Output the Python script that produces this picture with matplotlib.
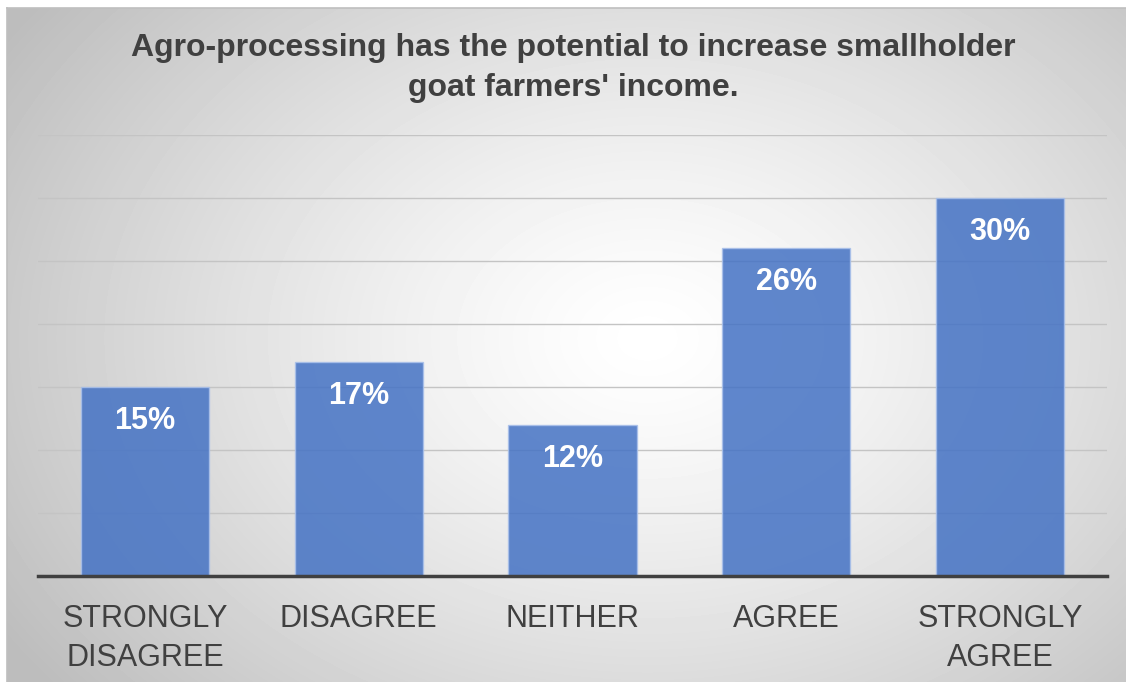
import matplotlib.pyplot as plt
import numpy as np

categories = ["STRONGLY\nDISAGREE", "DISAGREE", "NEITHER", "AGREE", "STRONGLY\nAGREE"]
values = [15, 17, 12, 26, 30]
title = "Agro-processing has the potential to increase smallholder\ngoat farmers' income."

W, H = 1126, 682
plt.rcParams['font.family'] = ['Liberation Sans', 'DejaVu Sans']

fig = plt.figure(figsize=(W / 100, H / 100), dpi=100)
fig.patch.set_facecolor('white')

### chart area background: radial grey-to-white gradient, frame on top/left only
bg = fig.add_axes([7 / W, 0, 1 - 7 / W, 1 - 8 / H])
yy, xx = np.mgrid[0:H - 8, 0:W - 7]
r = np.hypot((xx - 640) / 760.0, (yy - 330) / 560.0)
shade = 1.0 - 0.26 * np.clip(r, 0, 1) ** 1.3
bg.imshow(shade, cmap='gray', vmin=0, vmax=1, aspect='auto', interpolation='bilinear')
bg.set_xticks([])
bg.set_yticks([])
for name, s in bg.spines.items():
    s.set_color('#bfbfbf')
    s.set_linewidth(1.2)
    if name in ('right', 'bottom'):
        s.set_visible(False)

### bar plot
ax = fig.add_axes([38 / W, 1 - 576 / H, (1107 - 38) / W, (576 - 135) / H])
ax.patch.set_alpha(0)
x = np.arange(len(categories))
bars = ax.bar(x, values, width=0.6, color='#4472C4', alpha=0.85,
              edgecolor='#a9c0ea', linewidth=1.0, zorder=2)
ax.set_xlim(-0.5, len(categories) - 0.5)
ax.set_ylim(0, 35)
ax.set_yticks(np.arange(0, 36, 5))
ax.yaxis.grid(True, color='#c4c4c4', linewidth=1.0, zorder=1)
ax.set_axisbelow(True)
ax.tick_params(axis='y', left=False, labelleft=False)
ax.tick_params(axis='x', bottom=False, pad=17)
ax.set_xticks(x)
ax.set_xticklabels(categories, fontsize=22, color='#404040', linespacing=1.35)
for name in ['top', 'right', 'left']:
    ax.spines[name].set_visible(False)
ax.spines['bottom'].set_color('#404040')
ax.spines['bottom'].set_linewidth(2.5)
ax.spines['bottom'].set_zorder(3)

for b, v in zip(bars, values):
    ax.annotate(f"{v}%", (b.get_x() + b.get_width() / 2, v),
                xytext=(0, -34), textcoords='offset pixels',
                ha='center', va='center', color='white',
                fontsize=22, fontweight='bold', zorder=4)

fig.text(573 / W, 1 - 68 / H, title, ha='center', va='center',
         fontsize=23, fontweight='bold', color='#404040', linespacing=1.4)

fig.savefig('out.png', dpi=100)
